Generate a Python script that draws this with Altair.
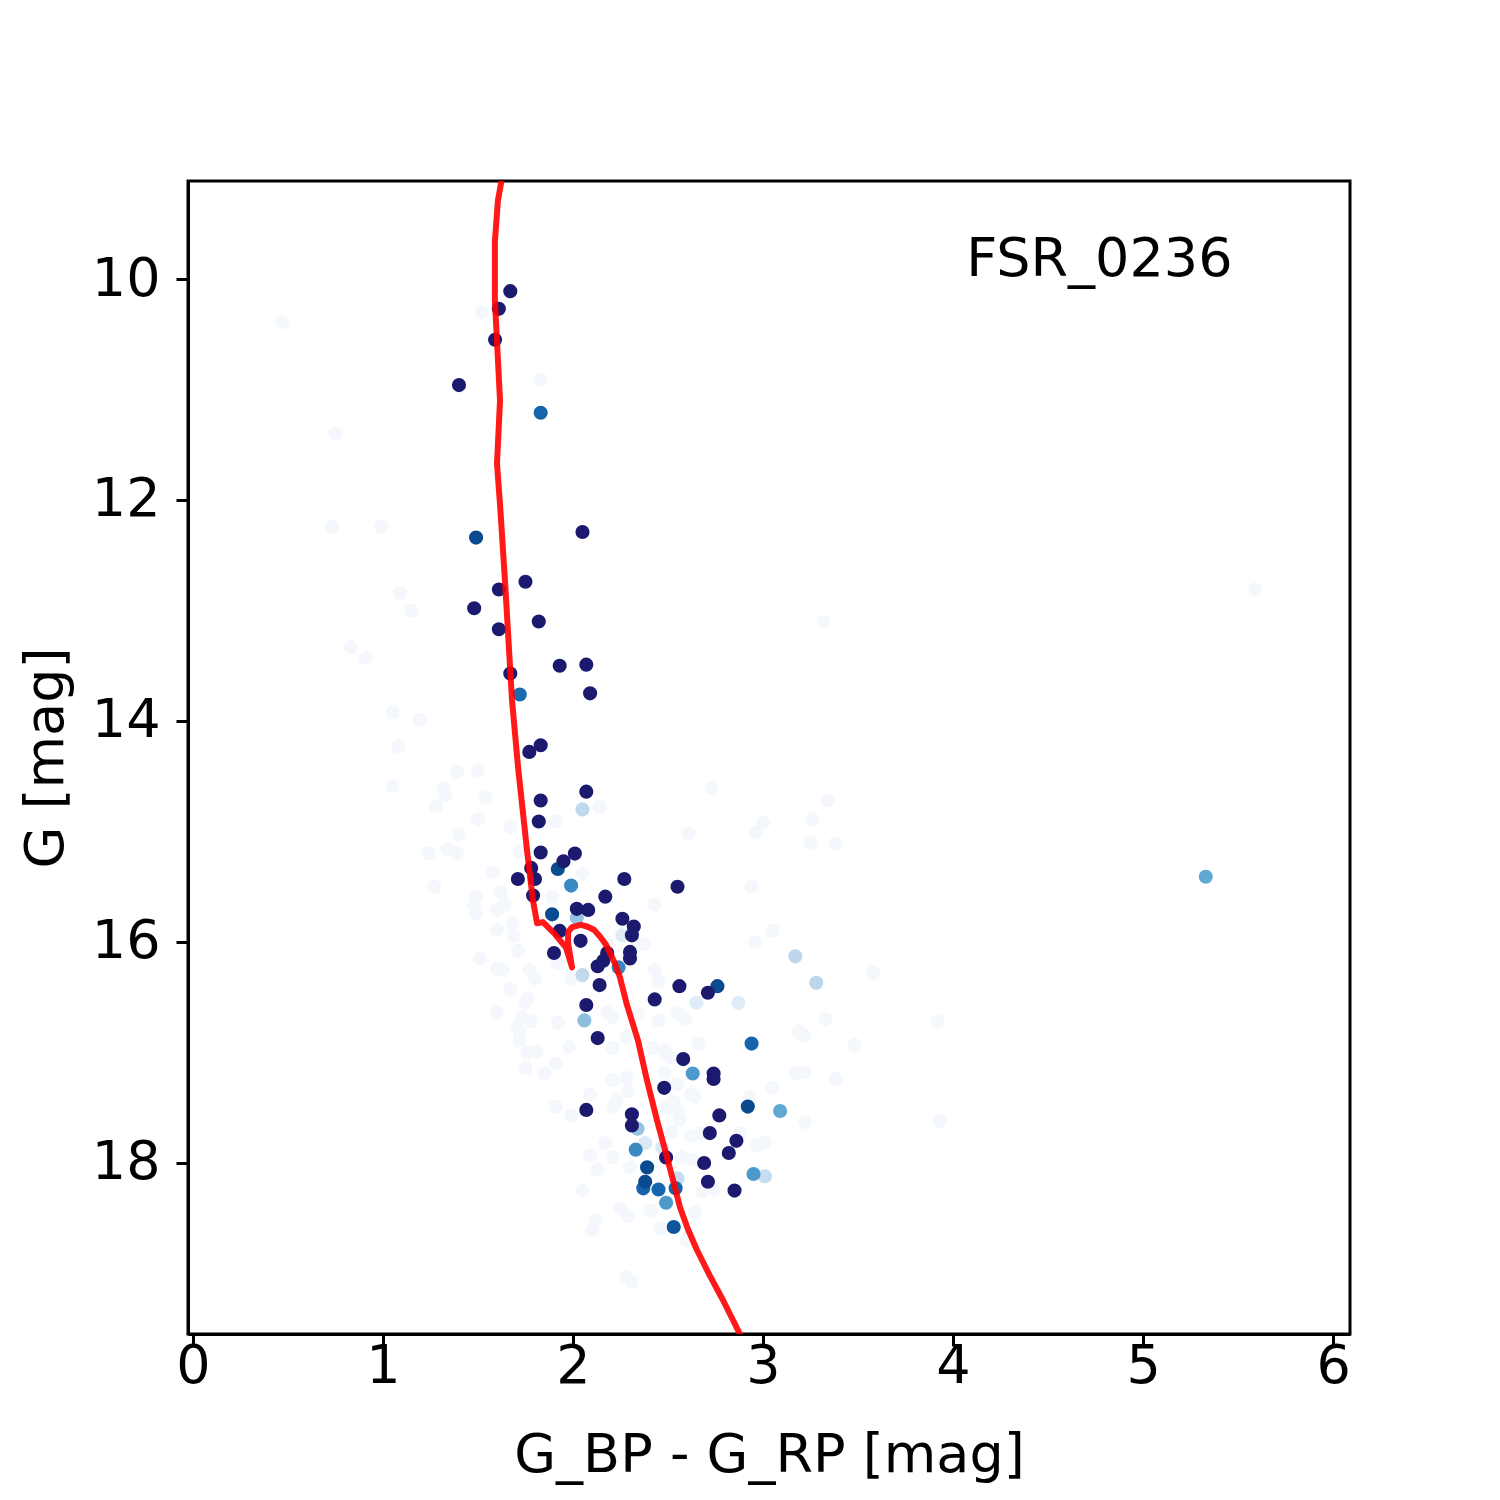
import altair as alt
import pandas as pd

# ---- member stars (probability ~1, dark navy) ----
navy_x = [1.67, 1.61, 1.59, 1.40, 2.05, 1.75, 1.61, 1.48, 1.82, 1.61, 1.93, 2.07, 1.67, 2.09,
          1.77, 1.83, 2.07, 1.83, 1.82, 1.83, 2.01, 1.95, 1.78, 1.71, 1.80, 1.79, 2.27, 2.55,
          2.17, 2.02, 2.08, 2.26, 2.32, 2.31, 1.93, 2.04, 1.90, 2.18, 2.30, 2.30, 2.13, 2.16,
          2.14, 2.56, 2.71, 2.07, 2.43, 2.13, 2.58, 2.74, 2.74, 2.48, 2.07, 2.31, 2.31, 2.77,
          2.72, 2.86, 2.82, 2.49, 2.69, 2.71, 2.85]
navy_y = [10.11, 10.27, 10.55, 10.96, 12.29, 12.74, 12.81, 12.98, 13.10, 13.17, 13.50, 13.49,
          13.57, 13.75, 14.28, 14.22, 14.64, 14.72, 14.91, 15.19, 15.20, 15.27, 15.33, 15.43,
          15.43, 15.58, 15.43, 15.50, 15.59, 15.70, 15.71, 15.79, 15.86, 15.94, 15.90, 15.99,
          16.10, 16.10, 16.09, 16.15, 16.22, 16.17, 16.39, 16.40, 16.46, 16.57, 16.52, 16.87,
          17.06, 17.19, 17.24, 17.32, 17.52, 17.56, 17.66, 17.57, 17.73, 17.80, 17.91, 17.95,
          18.00, 18.17, 18.25]

# ---- other stars with their membership probability ----
mid_x = [1.49, 1.92, 1.89, 2.76, 2.92, 2.39, 2.38, 2.53,
         1.83, 1.72, 2.94, 2.37, 2.45, 2.54,
         1.99, 2.24, 2.63, 2.33, 2.95, 2.49, 5.33, 3.09,
         2.06, 2.02, 2.34,
         2.05, 2.05, 3.17, 3.28, 3.01, 2.55,
         2.47, 2.38, 2.65, 2.87, 2.26]
mid_y = [12.34, 15.34, 15.75, 16.40, 17.49, 18.04, 18.17, 18.58,
         11.21, 13.76, 16.92, 18.23, 18.24, 18.23,
         15.49, 16.23, 17.19, 17.88, 18.10, 18.36, 15.41, 17.53,
         16.71, 15.78, 17.69,
         14.80, 16.30, 16.13, 16.37, 18.12, 18.14,
         17.86, 17.82, 16.55, 16.55, 15.94]
mid_p = [0.9, 0.9, 0.9, 0.9, 0.9, 0.9, 0.9, 0.86,
         0.8, 0.78, 0.8, 0.8, 0.8, 0.8,
         0.68, 0.68, 0.62, 0.68, 0.62, 0.62, 0.56, 0.56,
         0.45, 0.42, 0.42,
         0.28, 0.28, 0.3, 0.3, 0.25, 0.25,
         0.15, 0.15, 0.12, 0.12, 0.12]

# ---- field stars (probability ~0, almost white) ----
field_x = [0.47, 1.52, 1.83, 0.75, 0.73, 0.99, 1.09, 1.15, 0.83, 0.91, 1.05, 1.19, 1.08, 1.05,
           1.39, 1.50, 1.32, 1.33, 1.54, 1.28, 1.50, 1.67, 1.40, 1.91, 2.14, 1.24, 1.34, 1.39,
           1.72, 1.58, 2.05, 1.27, 1.49, 1.48, 1.49, 1.62, 1.64, 1.60, 1.89, 1.68, 1.60, 1.69,
           1.71, 1.51, 1.60, 1.63, 1.77, 1.80, 1.67, 1.76, 1.99, 1.92, 2.73, 2.61, 3.00, 2.96,
           3.34, 3.26, 3.25, 3.38, 2.94, 2.43, 3.05, 2.96, 2.37, 2.18, 2.43, 2.45, 3.58, 3.32,
           5.59, 3.92, 3.93, 3.33, 3.19, 3.22, 3.48, 2.66, 2.55, 2.59, 2.45, 3.17, 3.22, 3.38,
           3.05, 2.93, 3.22, 3.01, 2.97, 2.62, 2.55, 1.60, 1.75, 1.73, 1.78, 1.71, 1.72, 1.72,
           1.92, 1.76, 1.81, 1.98, 1.75, 1.85, 1.91, 1.91, 1.99, 2.05, 2.18, 2.21, 2.34, 2.21,
           2.28, 2.42, 2.48, 2.51, 2.21, 2.28, 2.29, 2.09, 2.23, 2.21, 2.48, 2.55, 2.53, 2.49,
           2.64, 2.56, 2.52, 2.62, 2.67, 2.09, 2.17, 2.21, 2.13, 2.30, 2.57, 2.63, 2.88, 2.25,
           2.29, 2.41, 2.64, 2.46, 2.60, 2.12, 2.10, 2.28, 2.31, 2.74, 2.68]
field_y = [10.39, 10.30, 10.91, 11.40, 12.24, 12.24, 12.84, 13.00, 13.33, 13.43, 13.92, 13.99,
           14.23, 14.59, 14.46, 14.45, 14.61, 14.67, 14.69, 14.77, 14.89, 14.96, 15.03, 14.91,
           14.78, 15.20, 15.16, 15.20, 15.18, 15.37, 15.38, 15.50, 15.59, 15.67, 15.74, 15.55,
           15.66, 15.71, 15.59, 15.83, 15.89, 15.95, 16.08, 16.15, 16.24, 16.25, 16.25, 16.33,
           16.43, 16.51, 16.33, 16.19, 14.61, 15.02, 14.92, 15.01, 14.72, 14.89, 15.10, 15.11,
           15.50, 15.66, 15.90, 16.00, 16.02, 16.01, 16.25, 16.36, 16.28, 13.10, 12.81, 16.72,
           17.62, 16.70, 16.81, 16.85, 16.93, 16.92, 16.64, 16.70, 16.71, 17.19, 17.18, 17.24,
           17.32, 17.40, 17.63, 17.81, 17.84, 17.38, 17.52, 16.64, 16.55, 16.68, 16.72, 16.77,
           16.82, 16.89, 16.73, 17.00, 16.99, 16.95, 17.14, 17.19, 17.10, 17.49, 17.57, 18.25,
           16.64, 16.68, 16.65, 16.96, 16.86, 16.96, 16.98, 17.04, 17.25, 17.23, 17.35, 17.38,
           17.43, 17.49, 17.18, 17.29, 17.45, 17.50, 17.40, 17.61, 17.72, 17.76, 17.73, 17.93,
           17.82, 17.95, 18.06, 18.04, 17.95, 17.97, 17.73, 18.41, 18.48, 18.43, 18.45, 18.59,
           18.70, 18.52, 18.61, 19.03, 19.08, 18.24, 18.26]

# ---- isochrone ----
iso_x = [1.63, 1.605, 1.589, 1.589, 1.616, 1.60, 1.616, 1.642, 1.679, 1.711, 1.758, 1.789,
         1.811, 1.842, 1.90, 1.963, 1.995, 1.974, 1.974, 1.995, 2.042, 2.074, 2.11, 2.142,
         2.172, 2.195, 2.222, 2.247, 2.284, 2.342, 2.389, 2.44, 2.495, 2.53, 2.563, 2.605,
         2.653, 2.72, 2.789, 2.879, 2.93]
iso_y = [9.05, 9.29, 9.66, 10.19, 11.10, 11.67, 12.04, 12.73, 13.81, 14.42, 15.17, 15.62,
         15.83, 15.82, 15.92, 16.05, 16.23, 16.01, 15.91, 15.865, 15.845, 15.86, 15.89, 15.95,
         16.02, 16.10, 16.20, 16.32, 16.57, 16.89, 17.25, 17.60, 17.95, 18.18, 18.40, 18.60,
         18.79, 19.02, 19.24, 19.55, 19.74]

label_text = "FSR_0236"
label_x = [4.77]
label_y = [9.83]

# ---- build tables ----
stars = pd.DataFrame({
    "bprp": field_x + mid_x + navy_x,
    "g": field_y + mid_y + navy_y,
    "p": [0.0] * len(field_x) + mid_p + [1.0] * len(navy_x),
})
stars = stars.sort_values("p", kind="stable").reset_index(drop=True)
stars["z"] = range(len(stars))

iso = pd.DataFrame({"bprp": iso_x, "g": iso_y, "i": range(len(iso_x))})
lab = pd.DataFrame({"bprp": label_x, "g": label_y, "t": [label_text]})

FONT = "DejaVu Sans"
FS = 54

xscale = alt.Scale(domain=[-0.026, 6.089], nice=False, zero=False)
yscale = alt.Scale(domain=[9.113, 19.548], nice=False, zero=False, reverse=True)

xaxis = alt.Axis(values=[0, 1, 2, 3, 4, 5, 6], format="d", title="G_BP - G_RP [mag]",
                 grid=False, tickSize=12, tickWidth=3, domainWidth=3, domainColor="black",
                 tickColor="black", labelFontSize=FS, labelFont=FONT, labelColor="black",
                 labelPadding=-7, titleFontSize=FS, titleFont=FONT, titleFontWeight="normal",
                 titleColor="black", titlePadding=35)
yaxis = alt.Axis(values=[10, 12, 14, 16, 18], format="d", title="G [mag]",
                 grid=False, tickSize=12, tickWidth=3, domainWidth=3, domainColor="black",
                 tickColor="black", labelFontSize=FS, labelFont=FONT, labelColor="black",
                 labelPadding=16, titleFontSize=FS, titleFont=FONT, titleFontWeight="normal",
                 titleColor="black", titlePadding=18)

color_scale = alt.Scale(
    domain=[0.0, 0.15, 0.3, 0.45, 0.56, 0.68, 0.8, 0.9, 1.0],
    range=["#f4f8fd", "#dbe9f6", "#bcd6eb", "#8dc0dd", "#62a8d4", "#3a8ac2",
           "#1764ab", "#0a4a8e", "#1b1a6e"],
)

points = alt.Chart(stars).mark_circle(size=200, opacity=1).encode(
    x=alt.X("bprp:Q", scale=xscale, axis=xaxis),
    y=alt.Y("g:Q", scale=yscale, axis=yaxis),
    color=alt.Color("p:Q", scale=color_scale, legend=None),
    order=alt.Order("z:Q"),
)

line = alt.Chart(iso).mark_line(color="#ff0000", opacity=0.9, strokeWidth=6, clip=True,
                                strokeJoin="round").encode(
    x=alt.X("bprp:Q", scale=xscale),
    y=alt.Y("g:Q", scale=yscale),
    order=alt.Order("i:Q"),
)

text = alt.Chart(lab).mark_text(font=FONT, fontSize=FS, color="black", align="center",
                                baseline="middle").encode(
    x=alt.X("bprp:Q", scale=xscale),
    y=alt.Y("g:Q", scale=yscale),
    text="t:N",
)

chart = (points + line + text).properties(
    width=1162, height=1153,
    autosize=alt.AutoSizeParams(type="none"),
    padding={"left": 180, "top": 173, "right": 20, "bottom": 200},
).configure_view(stroke="black", strokeWidth=3)

chart.save("out.html", embed_options={"renderer": "svg", "actions": False})
